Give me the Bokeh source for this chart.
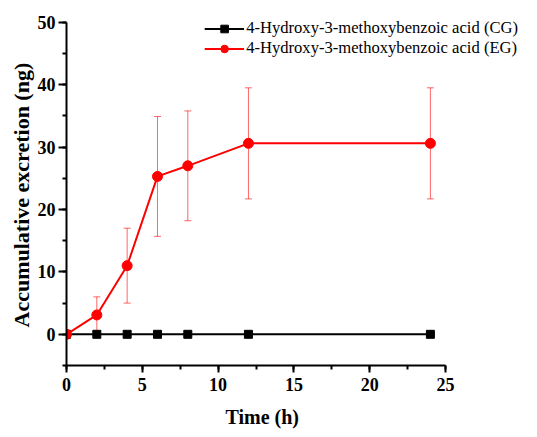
from bokeh.plotting import figure
from bokeh.models import (ColumnDataSource, Whisker, TeeHead, Legend, LegendItem,
                          SingleIntervalTicker, Range1d, Title)
from bokeh.embed import file_html
from bokeh.resources import INLINE

time_h = [0, 2, 4, 6, 8, 12, 24]
cg_mean = [0, 0, 0, 0, 0, 0, 0]
eg_mean = [0, 3.1, 11.0, 25.3, 27.0, 30.6, 30.6]
eg_sd = [0, 2.9, 6.0, 9.6, 8.8, 8.9, 8.9]
cg_label = "4-Hydroxy-3-methoxybenzoic acid (CG)"
eg_label = "4-Hydroxy-3-methoxybenzoic acid (EG)"
x_title = "Time (h)"
y_title = "Accumulative excretion (ng)"

FONT = "Liberation Serif"
RED = "#ff0000"

p = figure(width=537, height=437, x_range=Range1d(0, 30.47), y_range=Range1d(-5, 52.21),
           output_backend="svg", toolbar_location=None,
           min_border_left=66, min_border_right=9, min_border_top=8, min_border_bottom=72)
p.grid.visible = False
p.outline_line_color = None
p.background_fill_color = "white"

for ax in (p.xaxis[0], p.yaxis[0]):
    ax.axis_line_width = 2
    ax.major_tick_line_width = 2
    ax.minor_tick_line_width = 2
    ax.major_tick_in = 0
    ax.minor_tick_in = 0
    ax.minor_tick_out = 4
    ax.major_label_text_font = FONT
    ax.major_label_text_font_style = "bold"
    ax.major_label_text_font_size = "18px"
    ax.major_label_text_color = "black"

p.xaxis.bounds = (0, 25)
p.xaxis.ticker = SingleIntervalTicker(interval=5, num_minor_ticks=2)
p.xaxis.major_tick_out = 7
p.xaxis.major_label_standoff = 5

p.yaxis.bounds = (-5, 50)
p.yaxis.ticker = SingleIntervalTicker(interval=10, num_minor_ticks=2)
p.yaxis.major_tick_out = 8
p.yaxis.major_label_standoff = 3

# axis titles placed along the bounded axis lines
p.add_layout(Title(text=x_title, align="left", offset=159, standoff=20,
                   text_font=FONT, text_font_style="bold", text_font_size="20px",
                   text_color="black"), "below")
p.add_layout(Title(text=y_title, align="left", offset=38, standoff=2,
                   text_font=FONT, text_font_style="bold", text_font_size="22px",
                   text_color="black"), "left")

src = ColumnDataSource(dict(
    t=time_h, cg=cg_mean, eg=eg_mean,
    lo=[m - s for m, s in zip(eg_mean, eg_sd)],
    hi=[m + s for m, s in zip(eg_mean, eg_sd)],
))

err = Whisker(source=src, base="t", lower="lo", upper="hi",
              line_color=RED, line_alpha=0.6, line_width=1,
              upper_head=TeeHead(size=7, line_color=RED, line_alpha=0.6, line_width=1),
              lower_head=TeeHead(size=7, line_color=RED, line_alpha=0.6, line_width=1))
p.add_layout(err)

cg_line = p.line("t", "cg", source=src, line_color="black", line_width=2)
cg_pts = p.scatter("t", "cg", source=src, marker="square", size=8,
                   fill_color="black", line_color="black")
eg_line = p.line("t", "eg", source=src, line_color=RED, line_width=2)
eg_pts = p.scatter("t", "eg", source=src, marker="circle", size=10,
                   fill_color=RED, line_color=RED)

legend = Legend(items=[LegendItem(label=cg_label, renderers=[cg_line, cg_pts]),
                       LegendItem(label=eg_label, renderers=[eg_line, eg_pts])],
                location="top_right", margin=10, padding=0, spacing=0,
                glyph_width=40, glyph_height=19, label_height=19, label_standoff=2,
                border_line_alpha=0, background_fill_alpha=0,
                label_text_font=FONT, label_text_font_size="16.6px", label_text_color="black")
p.add_layout(legend)

open("out.html", "w").write(file_html(p, INLINE))
